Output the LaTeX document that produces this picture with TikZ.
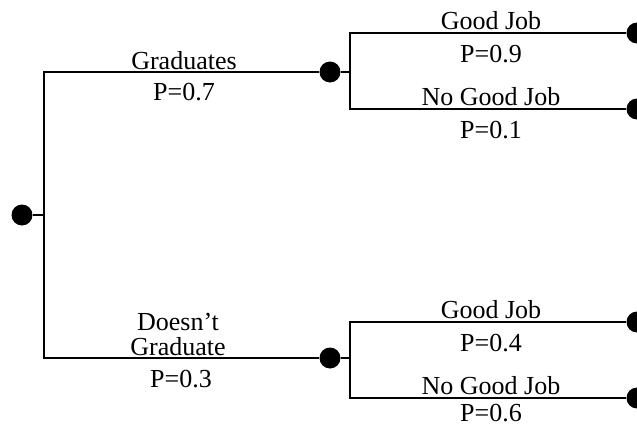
\documentclass[tikz,border=0pt]{standalone}
\usepackage{fontspec}
\setmainfont{Liberation Serif}
\begin{document}
\begin{tikzpicture}[x=0.75pt,y=-0.75pt,
  dot/.style={circle,fill=black,draw=none,inner sep=0pt,minimum size=15.75pt},
  branch/.style={line width=1.5pt,black},
  lbl/.style={inner sep=0pt,font=\fontsize{19.5}{19}\selectfont}]
\useasboundingbox (0,0) rectangle (637,425);
% decision nodes
\node[dot] (r) at (22,215) {};
\node[dot] (g) at (330,72) {};
\node[dot] (d) at (330,358) {};
\node[dot] (g1) at (637,33) {};
\node[dot] (g2) at (637,109) {};
\node[dot] (d1) at (637,322) {};
\node[dot] (d2) at (637,398) {};
% junction points
\coordinate (ja) at (44,72);
\coordinate (jb) at (44,358);
\coordinate (ka) at (350,33);
\coordinate (kb) at (350,109);
\coordinate (la) at (350,322);
\coordinate (lb) at (350,398);
% connectors
\draw[branch] (r) -- (r -| ja);
\draw[branch] (g) -- (ja) -- (jb) -- (d);
\draw[branch] (g) -- (g -| ka);
\draw[branch] (g1) -- (ka) -- (kb) -- (g2);
\draw[branch] (d) -- (d -| la);
\draw[branch] (d1) -- (la) -- (lb) -- (d2);
% labels
\node[lbl,anchor=base] (t1) at (184,69) {Graduates};
\node[lbl,anchor=base] (p1) at (184,100) {P=0.7};
\node[lbl,anchor=south,align=center] (t2) at (178,356) {Doesn’t\\Graduate};
\node[lbl,anchor=base] (p2) at (181,387) {P=0.3};
\node[lbl,anchor=base] (t3) at (491,29) {Good Job};
\node[lbl,anchor=base] (p3) at (491,62) {P=0.9};
\node[lbl,anchor=base] (t4) at (491,105) {No Good Job};
\node[lbl,anchor=base] (p4) at (491,138) {P=0.1};
\node[lbl,anchor=base] (t5) at (491,318) {Good Job};
\node[lbl,anchor=base] (p5) at (491,351) {P=0.4};
\node[lbl,anchor=base] (t6) at (491,394) {No Good Job};
\node[lbl,anchor=base] (p6) at (491,421) {P=0.6};
\end{tikzpicture}
\end{document}
